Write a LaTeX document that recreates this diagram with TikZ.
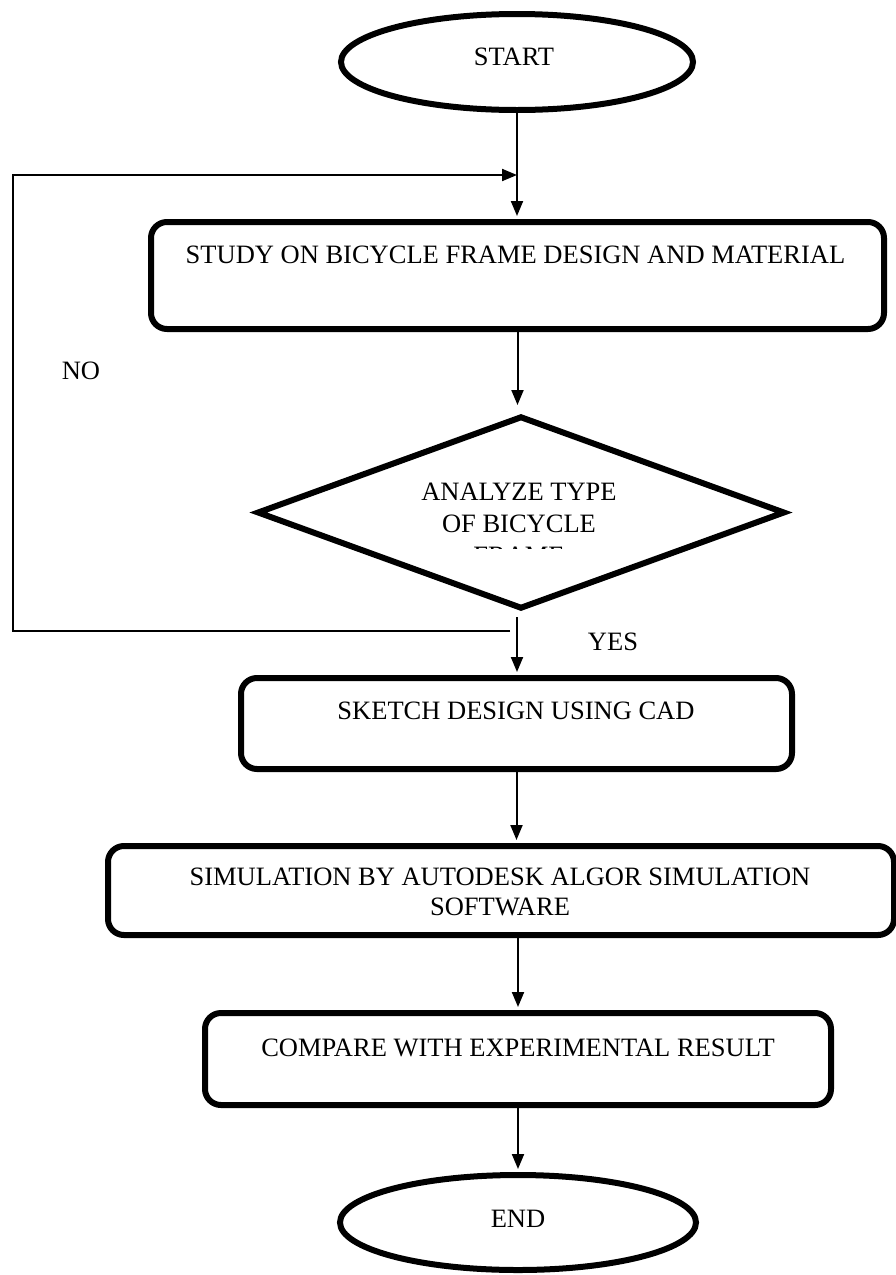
\documentclass[tikz,border=0pt]{standalone}
\usepackage{fontspec}
\setmainfont{Liberation Serif}
\usetikzlibrary{shapes.geometric,arrows.meta}
\begin{document}
\begin{tikzpicture}[x=1pt,y=-1pt,
  box/.style={draw,line width=6pt,rounded corners=16pt,inner sep=0pt},
  term/.style={draw,ellipse,line width=6pt,inner sep=0pt},
  dec/.style={draw,diamond,line width=6pt,inner sep=0pt},
  txt/.style={inner sep=0pt,anchor=base,font=\fontsize{26.5}{30}\selectfont},
  conn/.style={line width=2pt,-{Triangle[length=15pt,width=12pt]}},
  plain/.style={line width=2pt}]
\useasboundingbox (0,0) rectangle (895,1275);

% terminals and boxes
\node[term,minimum width=352pt,minimum height=96pt] (start) at (517,62) {};
\node[txt] (tstart) at (514,65) {START};

\node[box,minimum width=733pt,minimum height=107pt] (study) at (517.5,275.5) {};
\node[txt] (tstudy) at (515.5,263) {STUDY ON BICYCLE FRAME DESIGN AND MATERIAL};

\node[dec,minimum width=528pt,minimum height=193pt] (dec) at (521,512.5) {};
\node[txt] (tdec1) at (519,500) {ANALYZE TYPE};
\node[txt] (tdec2) at (519,532) {OF BICYCLE};
\begin{scope}
  \clip (380,530) rectangle (660,548);
  \node[txt] (tdec3) at (519,564) {FRAME};
\end{scope}

\node[box,minimum width=551pt,minimum height=91pt] (sketch) at (516.5,723.5) {};
\node[txt] (tsketch) at (516,719) {SKETCH DESIGN USING CAD};

\node[box,minimum width=786pt,minimum height=89pt] (sim) at (501,890.5) {};
\node[txt] (tsim1) at (500,885) {SIMULATION BY AUTODESK ALGOR SIMULATION};
\node[txt] (tsim2) at (500,915) {SOFTWARE};

\node[box,minimum width=626pt,minimum height=92pt] (compare) at (518,1059) {};
\node[txt] (tcompare) at (518,1056) {COMPARE WITH EXPERIMENTAL RESULT};

\node[term,minimum width=356pt,minimum height=95pt] (end) at (518,1222.5) {};
\node[txt] (tend) at (518,1227) {END};

% labels
\node[txt] (no) at (81,379) {NO};
\node[txt] (yes) at (613,650) {YES};

% connectors
\draw[conn,shorten >=3pt] (start.south) -- (start.south |- study.north);
\draw[conn,shorten >=8pt] (study.south) -- (study.south |- dec.north);
\coordinate (yesstart) at (517,617);
\draw[conn,shorten >=3pt] (yesstart) -- (yesstart |- sketch.north);
\draw[conn,shorten >=3pt] (sketch.south) -- (sketch.south |- sim.north);
\draw[conn,shorten >=3pt] (compare.north |- sim.south) -- (compare.north);
\draw[conn,shorten >=3pt] (compare.south) -- (end.north);

% feedback loop (NO)
\coordinate (fbA) at (510,631);
\coordinate (fbB) at (13,631);
\coordinate (fbC) at (13,175);
\coordinate (fbD) at (517,175);
\draw[conn] (fbA) -- (fbB) -- (fbC) -- (fbD);
\end{tikzpicture}
\end{document}
